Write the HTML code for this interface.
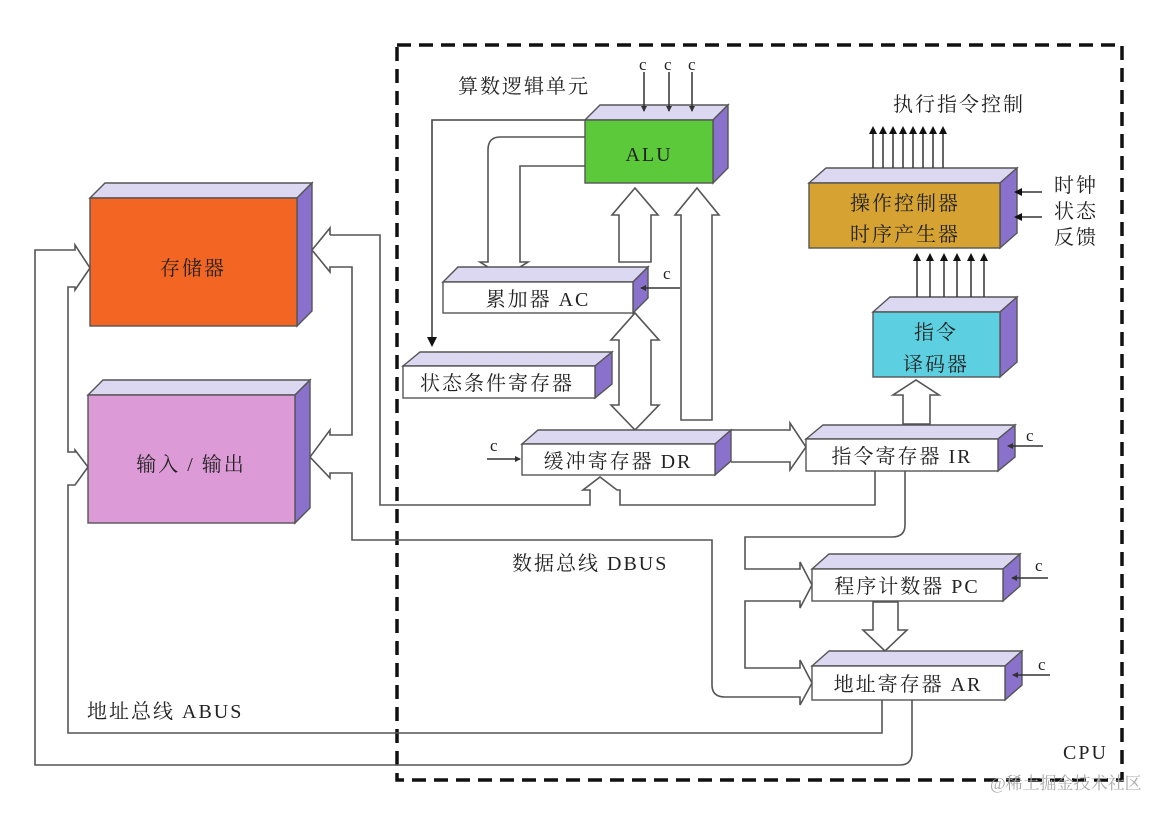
<!DOCTYPE html>
<html><head><meta charset="utf-8"><style>
html,body{margin:0;padding:0;background:#fff}
svg text{font-family:"Liberation Serif","Noto Serif CJK SC",serif;fill:#222}
</style></head><body>
<svg width="1172" height="814" viewBox="0 0 1172 814" xmlns="http://www.w3.org/2000/svg">
<defs>
<marker id="ah" markerWidth="8" markerHeight="8" refX="6" refY="4" orient="auto" markerUnits="userSpaceOnUse"><path d="M0,0 L8,4 L0,8 z" fill="#111"/></marker>
<marker id="ahs" markerWidth="6" markerHeight="6" refX="5" refY="3" orient="auto" markerUnits="userSpaceOnUse"><path d="M0,0 L6,3 L0,6 z" fill="#333"/></marker>
<marker id="ahb" markerWidth="10" markerHeight="14" refX="8" refY="5" orient="auto" markerUnits="userSpaceOnUse"><path d="M0,0 L10,5 L0,10 z" fill="#111"/></marker>
</defs>
<rect x="397" y="45" width="725" height="735" fill="none" stroke="#111" stroke-width="3.5" stroke-dasharray="14,8"/>

<g fill="none" stroke="#555" stroke-width="1.6">
<path d="M330,235 L380,235 L380,505 L590,505 L590,490 L583,490 L600,477 L617,490 L620,490 L620,505 L875,505 L875,471"/>
<path d="M330,235 L330,228 L312,250 L330,272 L330,267 L352,267 L352,435 L330,435 L330,430 L310,457 L330,478 L330,473 L352,473 L352,540 L712,540 L712,685 Q712,697 725,697 L800,697 L800,705 L812,683 L800,660 L800,668 L745,668 L745,601 L800,601 L800,608 L812,585 L800,562 L800,569 L745,569 L745,537 L892,537 Q905,537 905,525 L905,471"/>
<path d="M882,700 L882,733 L68,733 L68,485 L75,485 L88,467 L75,450 L75,452 L68,452 L68,287 L75,287 L75,290 L90,268 L75,245 L75,250 L35,250 L35,765 L900,765 Q912,765 912,752 L912,700"/>
<path d="M585,120 L432,120 L432,345" marker-end="url(#ahb)" stroke="#444"/>
<path d="M585,137 L500,137 Q488,137 488,150 L488,262 L480,262 L504,277 L528,262 L520,262 L520,166 L585,166" fill="#fff"/>
<path d="M619,262 L619,215 L612,215 L635,188 L658,215 L651,215 L651,262 Z" fill="#fff"/>
<path d="M681,420 L681,215 L675,215 L697,188 L719,215 L712,215 L712,420 Z" fill="#fff"/>
<path d="M619,340 L611,340 L635,313 L659,340 L651,340 L651,405 L659,405 L635,430 L611,405 L619,405 Z" fill="#fff"/>
<path d="M731,430 L790,430 L790,423 L806,447 L790,470 L790,462 L731,462" fill="#fff"/>
<path d="M903,424 L903,395 L893,395 L916,380 L939,395 L930,395 L930,424 Z" fill="#fff"/>
<path d="M873,602 L873,630 L863,630 L885,651 L907,630 L898,630 L898,602 Z" fill="#fff"/>
</g>

<g stroke="#555" stroke-width="1.4">
<polygon points="90,198 105,183 312,183 297,198" fill="#dcd8f2"/><polygon points="297,198 312,183 312,311 297,326" fill="#8a72cc"/><rect x="90" y="198" width="207" height="128" fill="#f26522"/>
<polygon points="88,395 103,380 310,380 295,395" fill="#dcd8f2"/><polygon points="295,395 310,380 310,508 295,523" fill="#8a72cc"/><rect x="88" y="395" width="207" height="128" fill="#dc9ad6"/>
<polygon points="585,120 600,105 728,105 713,120" fill="#dcd8f2"/><polygon points="713,120 728,105 728,168 713,183" fill="#8a72cc"/><rect x="585" y="120" width="128" height="63" fill="#5cc93a"/>
<polygon points="443,282 458,267 648,267 633,282" fill="#dcd8f2"/><polygon points="633,282 648,267 648,298 633,313" fill="#8a72cc"/><rect x="443" y="282" width="190" height="31" fill="#fff"/>
<polygon points="403,366 420,352 612,352 595,366" fill="#dcd8f2"/><polygon points="595,366 612,352 612,384 595,398" fill="#8a72cc"/><rect x="403" y="366" width="192" height="32" fill="#fff"/>
<polygon points="522,444 538,430 731,430 715,444" fill="#dcd8f2"/><polygon points="715,444 731,430 731,461 715,475" fill="#8a72cc"/><rect x="522" y="444" width="193" height="31" fill="#fff"/>
<polygon points="806,439 823,425 1015,425 998,439" fill="#dcd8f2"/><polygon points="998,439 1015,425 1015,457 998,471" fill="#8a72cc"/><rect x="806" y="439" width="192" height="32" fill="#fff"/>
<polygon points="812,569 829,554 1020,554 1003,569" fill="#dcd8f2"/><polygon points="1003,569 1020,554 1020,586 1003,601" fill="#8a72cc"/><rect x="812" y="569" width="191" height="32" fill="#fff"/>
<polygon points="812,666 829,651 1022,651 1005,666" fill="#dcd8f2"/><polygon points="1005,666 1022,651 1022,685 1005,700" fill="#8a72cc"/><rect x="812" y="666" width="193" height="34" fill="#fff"/>
<polygon points="873,312 890,297 1017,297 1000,312" fill="#dcd8f2"/><polygon points="1000,312 1017,297 1017,362 1000,377" fill="#8a72cc"/><rect x="873" y="312" width="127" height="65" fill="#5cd0e0"/>
<polygon points="809,183 826,168 1017,168 1000,183" fill="#dcd8f2"/><polygon points="1000,183 1017,168 1017,233 1000,248" fill="#8a72cc"/><rect x="809" y="183" width="191" height="65" fill="#d6a232"/>
</g>

<g stroke="#333" stroke-width="1.5">
<line x1="644" y1="72" x2="644" y2="111" marker-end="url(#ahs)"/>
<line x1="669" y1="72" x2="669" y2="111" marker-end="url(#ahs)"/>
<line x1="692" y1="72" x2="692" y2="111" marker-end="url(#ahs)"/>
<line x1="680" y1="288" x2="641" y2="288" marker-end="url(#ahs)"/>
<line x1="487" y1="459" x2="520" y2="459" marker-end="url(#ahs)"/>
<line x1="1043" y1="446" x2="1008" y2="446" marker-end="url(#ahs)"/>
<line x1="1048" y1="578" x2="1012" y2="578" marker-end="url(#ahs)"/>
<line x1="1050" y1="675" x2="1013" y2="675" marker-end="url(#ahs)"/>
<line x1="1042" y1="192" x2="1016" y2="192" marker-end="url(#ah)"/>
<line x1="1042" y1="217" x2="1016" y2="217" marker-end="url(#ah)"/>
<line x1="873" y1="168" x2="873" y2="128" marker-end="url(#ah)"/>
<line x1="883" y1="168" x2="883" y2="128" marker-end="url(#ah)"/>
<line x1="893" y1="168" x2="893" y2="128" marker-end="url(#ah)"/>
<line x1="903" y1="168" x2="903" y2="128" marker-end="url(#ah)"/>
<line x1="913" y1="168" x2="913" y2="128" marker-end="url(#ah)"/>
<line x1="923" y1="168" x2="923" y2="128" marker-end="url(#ah)"/>
<line x1="933" y1="168" x2="933" y2="128" marker-end="url(#ah)"/>
<line x1="943" y1="168" x2="943" y2="128" marker-end="url(#ah)"/>
<line x1="917" y1="297" x2="917" y2="255" marker-end="url(#ah)"/>
<line x1="930" y1="297" x2="930" y2="255" marker-end="url(#ah)"/>
<line x1="944" y1="297" x2="944" y2="255" marker-end="url(#ah)"/>
<line x1="957" y1="297" x2="957" y2="255" marker-end="url(#ah)"/>
<line x1="971" y1="297" x2="971" y2="255" marker-end="url(#ah)"/>
<line x1="984" y1="297" x2="984" y2="255" marker-end="url(#ah)"/>
</g>

<g font-size="20" letter-spacing="2">
<text x="193" y="275" text-anchor="middle">存储器</text>
<text x="191" y="471" text-anchor="middle">输入 / 输出</text>
<text x="649" y="161" text-anchor="middle">ALU</text>
<text x="538" y="306" text-anchor="middle">累加器 AC</text>
<text x="497" y="390" text-anchor="middle">状态条件寄存器</text>
<text x="618" y="468" text-anchor="middle">缓冲寄存器 DR</text>
<text x="902" y="463" text-anchor="middle">指令寄存器 IR</text>
<text x="907" y="593" text-anchor="middle">程序计数器 PC</text>
<text x="908" y="691" text-anchor="middle">地址寄存器 AR</text>
<text x="936" y="339" text-anchor="middle">指令</text>
<text x="936" y="371" text-anchor="middle">译码器</text>
<text x="905" y="210" text-anchor="middle">操作控制器</text>
<text x="905" y="241" text-anchor="middle">时序产生器</text>
<text x="458" y="93">算数逻辑单元</text>
<text x="893" y="111">执行指令控制</text>
<text x="1054" y="192">时钟</text>
<text x="1054" y="218">状态</text>
<text x="1054" y="244">反馈</text>
<text x="512" y="570">数据总线 DBUS</text>
<text x="87" y="718">地址总线 ABUS</text>
<text x="1063" y="759">CPU</text>
</g>
<g font-size="17">
<text x="639" y="70">c</text><text x="664" y="70">c</text><text x="688" y="70">c</text>
<text x="663" y="279">c</text><text x="490" y="451">c</text>
<text x="1026" y="441">c</text><text x="1035" y="571">c</text><text x="1038" y="670">c</text>
</g>
<text x="990" y="789" font-size="17" style="fill:#aaa">@稀土掘金技术社区</text>
</svg>
</body></html>
